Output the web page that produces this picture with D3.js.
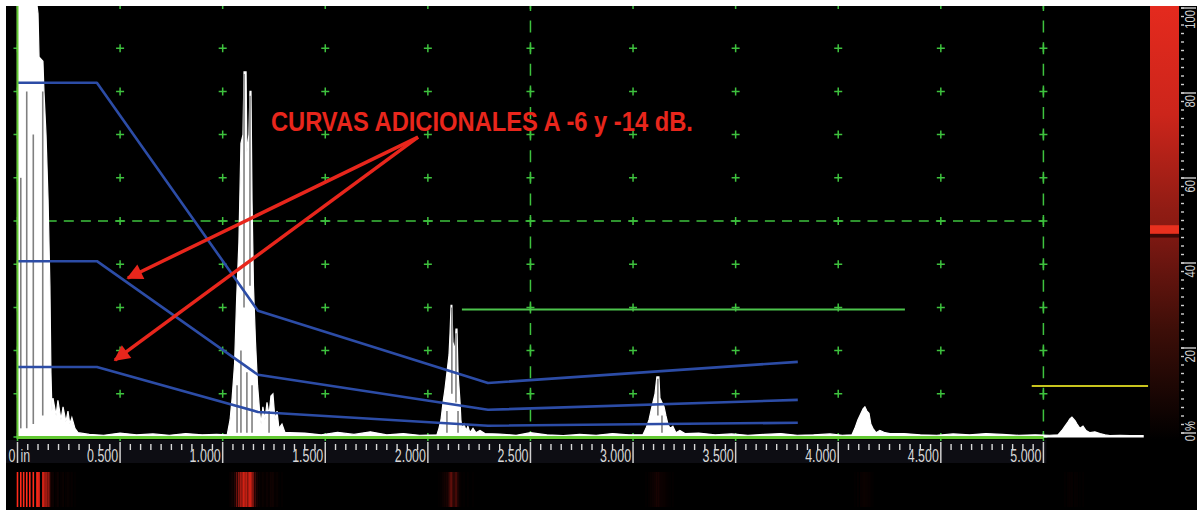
<!DOCTYPE html>
<html>
<head>
<meta charset="utf-8">
<script src="https://cdn.jsdelivr.net/npm/d3@7"></script>
<style>
    body { margin: 0; background: #fff; }
    svg { display: block; font-family: "Liberation Sans", Arial, sans-serif; }
</style>
</head>
<body>
<div id="scope"></div>
<script>
// A-scan samples: [depth in inches, amplitude % FSH]
let initialPulse = [[0.000,100],[0.016,100],[0.030,100],[0.045,100],[0.060,100],[0.077,100],[0.095,100],[0.100,98],[0.105,88],[0.124,87],[0.129,80],[0.139,70],[0.149,55],[0.158,35],[0.163,15],[0.168,6],[0.173,9],[0.188,5],[0.197,8.5],[0.212,4],[0.222,7],[0.236,3.5],[0.246,6],[0.255,3],[0.265,4.5],[0.280,2],[0.295,1]];
let noiseA = [[0.35,0.6],[0.42,0.4],[0.50,0.9],[0.58,0.5],[0.66,0.7],[0.74,0.4],[0.82,0.8],[0.90,0.5],[0.97,0.6]];
let echo1 = [[1.022,0.5],[1.036,4],[1.046,9],[1.058,17],[1.068,32],[1.079,45],[1.089,68],[1.099,70],[1.104,84.5],[1.114,84.5],[1.118,66],[1.128,70],[1.133,80],[1.138,80],[1.143,55],[1.150,35],[1.160,22],[1.170,12],[1.180,6],[1.187,3],[1.196,7],[1.206,4],[1.216,8],[1.226,5],[1.235,9.5],[1.245,10],[1.255,4],[1.265,6],[1.274,2],[1.289,3],[1.304,1],[1.328,1]];
let noiseB = [[1.40,0.9],[1.48,0.5],[1.56,1.1],[1.64,0.6],[1.72,1.2],[1.80,0.5],[1.88,0.8],[1.96,0.4]];
let echo2 = [[2.044,0.5],[2.054,2],[2.064,4],[2.074,8],[2.083,11],[2.093,15],[2.103,19],[2.108,24],[2.113,30.5],[2.117,30.5],[2.122,22],[2.132,20],[2.137,25],[2.142,25],[2.147,15],[2.157,8],[2.161,4],[2.166,2],[2.176,3],[2.186,1.5],[2.195,2.5],[2.205,1],[2.220,2],[2.234,1],[2.254,1.5],[2.278,0.8]];
let noiseC = [[2.35,0.7],[2.43,0.4],[2.50,1.0],[2.58,0.5],[2.66,0.3],[2.74,0.6],[2.82,0.4],[2.90,0.8],[2.98,0.5]];
let echo3 = [[3.048,0.5],[3.063,2],[3.078,4],[3.087,6],[3.097,8],[3.107,10],[3.116,13.9],[3.126,13.9],[3.131,9],[3.141,8],[3.151,7],[3.160,5],[3.170,3],[3.180,2],[3.194,2.5],[3.209,1],[3.228,1.5],[3.253,0.8]];
let noiseD = [[3.32,0.9],[3.40,0.5],[3.48,0.7],[3.56,0.4],[3.64,0.6],[3.72,0.8],[3.80,0.4],[3.88,0.5],[3.96,0.7],[4.02,0.4]];
let echo4 = [[4.067,0.5],[4.081,2],[4.096,4],[4.111,5.5],[4.121,6.5],[4.130,7],[4.140,6],[4.150,5.5],[4.159,3],[4.169,2],[4.184,1],[4.203,1.5],[4.228,1],[4.252,0.8]];
let noiseE = [[4.32,0.8],[4.40,0.5],[4.48,0.4],[4.56,0.7],[4.64,0.5],[4.72,0.8],[4.80,0.6],[4.88,0.4],[4.96,0.5],[5.03,0.4]];
let echo5 = [[5.071,0.5],[5.090,1.5],[5.105,2.5],[5.120,3.5],[5.129,4.2],[5.139,4.6],[5.154,3.8],[5.164,3],[5.178,2],[5.193,2.5],[5.208,1.5],[5.227,1],[5.251,1.2],[5.276,0.8],[5.300,0.5],[5.324,0.3],[5.373,0.4],[5.422,0.3],[5.486,0.3]];

// dark valleys inside the rectified signal: [depth, low %, high %]
let valleys = [[0.016,2,60],[0.045,2,80],[0.077,3,70],[0.123,5,80],[1.070,1,12],[1.089,1,20],[1.104,30,84],[1.118,1,15],[1.133,35,79],[1.143,1,12],[1.226,1,6],[2.093,1,6],[2.117,10,30],[2.137,8,24],[2.147,1,6],[3.121,5,13.5],[3.141,1,5]];

// DAC curve (reference) and the two additional curves at -6 and -14 dB
let dacMain = [[0,82],[0.387,82],[1.172,29.2],[2.293,12.5],[3.803,17.4]];
let dacMinus6 = [[0,40.7],[0.387,40.7],[1.172,14.4],[2.293,6.3],[3.803,8.6]];
let dacMinus14 = [[0,16.2],[0.387,16.2],[1.172,5.8],[2.293,2.6],[3.803,3.3]];

// gates: [start, end, level %]
let gateA = [2.166, 4.325, 29.5];
let gateB = [4.943, 5.51, 11.8];

let xTickValues = [0, 0.5, 1.0, 1.5, 2.0, 2.5, 3.0, 3.5, 4.0, 4.5, 5.0];
let xTickLabels = ["0", "0.500", "1.000", "1.500", "2.000", "2.500", "3.000", "3.500", "4.000", "4.500", "5.000"];
let ampTickValues = [0, 20, 40, 60, 80, 100];
let ampTickLabels = ["0", "20", "40", "60", "80", "100"];

let barOffsets = [0, 0.25, 0.47, 0.505, 0.506, 0.524, 0.525, 0.533, 0.534, 0.75, 1];
let barColors = ["#e42a1e", "#cc251b", "#901c14", "#8a1a12", "#e8301e", "#e8301e", "#3a0806", "#3a0806", "#7c1812", "#3c0e08", "#000000"];

let noteText = "CURVAS ADICIONALES A -6 y -14 dB.";
let notePos = [1.235, 70.8];
let arrowFrom = [1.952, 69.4];
let arrowTips = [[0.538, 36.8], [0.475, 17.8]];

function drawScope() {
    let width = 1197;
    let height = 510;

    let svg = d3.select("#scope")
        .append("svg")
        .attr("width", width)
        .attr("height", height);

    svg.append("rect")
        .attr("x", 6).attr("y", 6)
        .attr("width", width - 6).attr("height", height - 6)
        .attr("fill", "#000");

    let x = d3.scaleLinear().domain([0, 5.5]).range([17.5, 1146]);
    let y = d3.scaleLinear().domain([0, 100]).range([437, 5]);
    let yBar = d3.scaleLinear().domain([0, 100]).range([433, 8]);

    let ascan = [].concat(initialPulse, noiseA, echo1, noiseB, echo2, noiseC, echo3, noiseD, echo4, noiseE, echo5);

    // axis band
    svg.append("rect")
        .attr("x", 6).attr("y", 440)
        .attr("width", x(5) + 3 - 6).attr("height", 23)
        .attr("fill", "#0d0d13");

    // grid crosses
    let grid = svg.append("g").attr("id", "grid");
    let gx = d3.range(0, 5.01, 0.5);
    let gy = d3.range(0, 100.1, 10);
    gx.forEach(function (a) {
        gy.forEach(function (b) {
            grid.append("path")
                .attr("d", "M-4,0H4M0,-4V4")
                .attr("transform", "translate(" + x(a) + "," + y(b) + ")")
                .attr("stroke", "#3ec23e")
                .attr("stroke-width", 1.5);
        });
    });

    // dashed reference lines
    [2.5, 5.0].forEach(function (a) {
        grid.append("line")
            .attr("x1", x(a)).attr("x2", x(a))
            .attr("y1", y(100)).attr("y2", y(0))
            .attr("stroke", "#3ec23e")
            .attr("stroke-width", 1.5)
            .attr("stroke-dasharray", "12,9.6")
            .attr("stroke-dashoffset", 6);
    });
    grid.append("line")
        .attr("x1", x(0)).attr("x2", x(5))
        .attr("y1", y(50)).attr("y2", y(50))
        .attr("stroke", "#3ec23e")
        .attr("stroke-width", 1.5)
        .attr("stroke-dasharray", "10,7.1")
        .attr("stroke-dashoffset", 5);

    // gates
    svg.append("line")
        .attr("x1", x(gateA[0])).attr("x2", x(gateA[1]))
        .attr("y1", y(gateA[2])).attr("y2", y(gateA[2]))
        .attr("stroke", "#4cc44c").attr("stroke-width", 2);
    svg.append("line")
        .attr("x1", x(gateB[0])).attr("x2", x(gateB[1]))
        .attr("y1", y(gateB[2])).attr("y2", y(gateB[2]))
        .attr("stroke", "#c8c41e").attr("stroke-width", 2);

    // rectified A-scan
    let area = d3.area()
        .x((d) => x(d[0]))
        .y0(y(0))
        .y1((d) => y(d[1]));

    svg.append("path")
        .datum(ascan)
        .attr("fill", "#fff")
        .attr("stroke", "#fff")
        .attr("stroke-width", 1.2)
        .attr("d", area);

    svg.selectAll("line.valley")
        .data(valleys)
        .enter()
        .append("line")
        .attr("class", "valley")
        .attr("x1", (d) => x(d[0])).attr("x2", (d) => x(d[0]))
        .attr("y1", (d) => y(d[1])).attr("y2", (d) => y(d[2]))
        .attr("stroke", "#808080")
        .attr("stroke-width", 1.6);

    // DAC curves
    let line = d3.line()
        .x((d) => x(d[0]))
        .y((d) => y(d[1]));

    [dacMain, dacMinus6, dacMinus14].forEach(function (c) {
        svg.append("path")
            .datum(c)
            .attr("fill", "none")
            .attr("stroke", "#2c4ca6")
            .attr("stroke-width", 2.6)
            .attr("stroke-linejoin", "round")
            .attr("d", line);
    });

    // baseline and left edge
    svg.append("line")
        .attr("x1", x(0)).attr("x2", x(5))
        .attr("y1", y(0) + 0.5).attr("y2", y(0) + 0.5)
        .attr("stroke", "#62c832").attr("stroke-width", 3);
    svg.append("line")
        .attr("x1", x(0)).attr("x2", x(0))
        .attr("y1", 6).attr("y2", y(0) + 2)
        .attr("stroke", "#62c832").attr("stroke-width", 2);

    // x axis ticks
    let axis = svg.append("g").attr("id", "x-axis");
    d3.range(0, 5.001, 0.05).forEach(function (t) {
        if (Math.abs(t * 2 - Math.round(t * 2)) < 1e-6) { return; }
        axis.append("line")
            .attr("x1", x(t)).attr("x2", x(t))
            .attr("y1", 444).attr("y2", 450)
            .attr("stroke", "#d8d8d8").attr("stroke-width", 1.4);
    });
    xTickValues.forEach(function (t, i) {
        axis.append("line")
            .attr("x1", x(t)).attr("x2", x(t))
            .attr("y1", 442).attr("y2", 463)
            .attr("stroke", "#cfcfcf").attr("stroke-width", 1.5);
        axis.append("text")
            .text(xTickLabels[i])
            .attr("transform", "translate(" + (x(t) - 2) + ",462) scale(0.69,1)")
            .attr("text-anchor", "end")
            .attr("font-size", 18)
            .attr("fill", "#d8d8d8");
    });
    axis.append("text")
        .text("in")
        .attr("transform", "translate(" + (x(0) + 3) + ",462) scale(0.69,1)")
        .attr("font-size", 18)
        .attr("fill", "#d8d8d8");

    // amplitude colour strip under the axis
    let stripColor = d3.scaleLinear()
        .domain([0, 15, 40, 100])
        .range(["#000000", "#1c0403", "#8c1610", "#ff2a1a"]);
    svg.selectAll("line.strip")
        .data(ascan.filter((d) => d[1] > 1.5))
        .enter()
        .append("line")
        .attr("class", "strip")
        .attr("x1", (d) => x(d[0])).attr("x2", (d) => x(d[0]))
        .attr("y1", 472).attr("y2", 507)
        .attr("stroke", (d) => stripColor(d[1]))
        .attr("stroke-width", 1.6);

    // colour bar on the right
    let grad = svg.append("defs")
        .append("linearGradient")
        .attr("id", "bar-grad")
        .attr("x1", 0).attr("x2", 0)
        .attr("y1", 0).attr("y2", 1);
    barOffsets.forEach(function (o, i) {
        grad.append("stop")
            .attr("offset", o)
            .attr("stop-color", barColors[i]);
    });
    svg.append("rect")
        .attr("x", 1150).attr("y", 6)
        .attr("width", 29).attr("height", 434)
        .attr("fill", "url(#bar-grad)");

    let barAxis = svg.append("g").attr("id", "bar-axis");
    d3.range(0, 100.1, 2).forEach(function (v) {
        barAxis.append("line")
            .attr("x1", 1181).attr("x2", 1184)
            .attr("y1", yBar(v)).attr("y2", yBar(v))
            .attr("stroke", "#cfcfcf").attr("stroke-width", 1.4);
    });
    ampTickValues.forEach(function (v, i) {
        barAxis.append("line")
            .attr("x1", 1181).attr("x2", 1196)
            .attr("y1", yBar(v)).attr("y2", yBar(v))
            .attr("stroke", "#cfcfcf").attr("stroke-width", 1.4);
        barAxis.append("text")
            .text(ampTickLabels[i])
            .attr("transform", "translate(1195," + (yBar(v) + 2) + ") rotate(-90) scale(0.8,1)")
            .attr("text-anchor", "end")
            .attr("font-size", 14)
            .attr("fill", "#d0d0d0");
    });
    barAxis.append("text")
        .text("%")
        .attr("transform", "translate(1195," + (yBar(0) - 2) + ") rotate(-90) scale(0.8,1)")
        .attr("font-size", 14)
        .attr("fill", "#d0d0d0");

    // annotation
    svg.append("defs")
        .append("marker")
        .attr("id", "arrowhead")
        .attr("viewBox", "0 0 10 10")
        .attr("refX", 9).attr("refY", 5)
        .attr("markerWidth", 24).attr("markerHeight", 16)
        .attr("markerUnits", "userSpaceOnUse")
        .attr("orient", "auto")
        .append("path")
        .attr("d", "M0,0L10,5L0,10z")
        .attr("fill", "#e8261c");

    arrowTips.forEach(function (tip) {
        svg.append("line")
            .attr("x1", x(arrowFrom[0])).attr("y1", y(arrowFrom[1]))
            .attr("x2", x(tip[0])).attr("y2", y(tip[1]))
            .attr("stroke", "#e8261c")
            .attr("stroke-width", 3.5)
            .attr("marker-end", "url(#arrowhead)");
    });

    svg.append("text")
        .text(noteText)
        .attr("x", x(notePos[0]))
        .attr("y", y(notePos[1]))
        .attr("font-size", 27)
        .attr("font-weight", "bold")
        .attr("textLength", 422)
        .attr("lengthAdjust", "spacingAndGlyphs")
        .attr("fill", "#e8261c");

    // white page margin
    svg.append("rect").attr("x", 0).attr("y", 0).attr("width", width).attr("height", 6).attr("fill", "#fff");
    svg.append("rect").attr("x", 0).attr("y", 0).attr("width", 6).attr("height", height).attr("fill", "#fff");
}

drawScope();
</script>
</body>
</html>
